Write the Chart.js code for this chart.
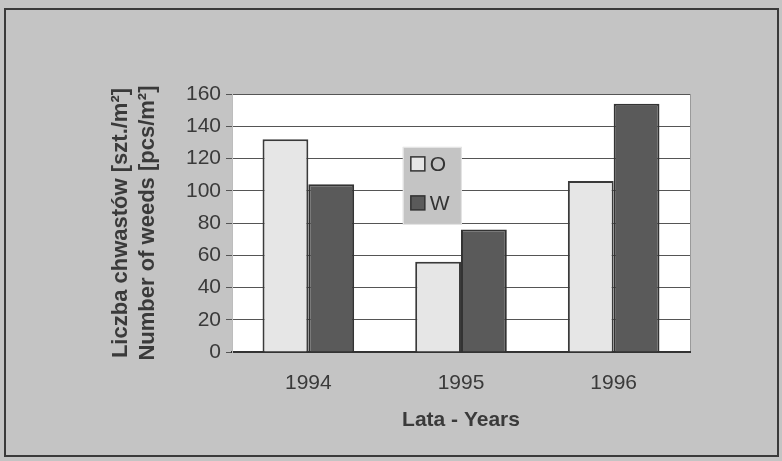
<!DOCTYPE html>
<html>
<head>
<meta charset="utf-8">
<script src="https://cdn.jsdelivr.net/npm/chart.js@4/dist/chart.umd.min.js"></script>
<style>
  body { margin: 0; background: #c4c4c4; }
  #wrap { width: 782px; height: 461px; }
</style>
</head>
<body>
<div id="wrap"><canvas id="weedsChart" width="782" height="461"></canvas></div>
<script>
// data
var years = ["1994", "1995", "1996"];
var seriesO = [132, 56, 106];
var seriesW = [104, 76, 154];
var yTicks = [0, 20, 40, 60, 80, 100, 120, 140, 160];

// grey page, scan frame and white plot area
var backdrop = {
  id: "backdrop",
  beforeDraw: function (chart) {
    var c = chart.ctx, a = chart.chartArea;
    c.save();
    c.fillStyle = "#c4c4c4";
    c.fillRect(0, 0, chart.width, chart.height);
    c.strokeStyle = "#3a3a3a";
    c.lineWidth = 2;
    c.strokeRect(5, 9, 773, 447);
    c.fillStyle = "#ffffff";
    c.fillRect(a.left, a.top, a.right - a.left, a.bottom - a.top);
    c.strokeStyle = "#9a9a9a";
    c.lineWidth = 1;
    c.beginPath();
    c.moveTo(a.right + 0.5, a.top);
    c.lineTo(a.right + 0.5, a.bottom);
    c.stroke();
    c.restore();
  }
};

// legend box sitting inside the plot, like the original
var innerLegend = {
  id: "innerLegend",
  afterDraw: function (chart) {
    var c = chart.ctx, a = chart.chartArea;
    var x = a.left + (a.right - a.left) * 0.373;
    var y = a.top + (a.bottom - a.top) * 0.205;
    c.save();
    c.fillStyle = "#c4c4c4";
    c.fillRect(x, y, 59, 78);
    c.strokeStyle = "#e8e8e8";
    c.lineWidth = 1;
    c.strokeRect(x + 0.5, y + 0.5, 58, 77);
    c.font = "21px 'Liberation Sans', Arial, sans-serif";
    c.textBaseline = "middle";
    chart.data.datasets.forEach(function (ds, i) {
      var sy = y + 10 + i * 39;
      c.fillStyle = ds.backgroundColor;
      c.fillRect(x + 8, sy, 14, 14);
      c.strokeStyle = "#333333";
      c.lineWidth = 1.5;
      c.strokeRect(x + 8, sy, 14, 14);
      c.fillStyle = "#333333";
      c.fillText(ds.label, x + 27, sy + 8);
    });
    c.restore();
  }
};

window.onload = function () {
  var ctx = document.getElementById("weedsChart").getContext("2d");
  var weedsChart = new Chart(ctx, {
    type: "bar",
    data: {
      labels: years,
      datasets: [{
        label: "O",
        data: seriesO,
        backgroundColor: "#e6e6e6",
        borderColor: "#3a3a3a",
        borderWidth: 2
      }, {
        label: "W",
        data: seriesW,
        backgroundColor: "#5a5a5a",
        borderColor: "#333333",
        borderWidth: 2
      }]
    },
    options: {
      responsive: false,
      animation: false,
      layout: { padding: { left: 0, right: 92, top: 94, bottom: 0 } },
      plugins: { legend: { display: false }, tooltip: { enabled: false } },
      datasets: { bar: { categoryPercentage: 0.6, barPercentage: 1.0 } },
      scales: {
        x: {
          afterFit: function (s) { s.height = 109; },
          grid: { display: false },
          border: { display: true, color: "#333333", width: 2 },
          ticks: {
            color: "#3a3a3a",
            padding: 11,
            font: { family: "'Liberation Sans', Arial, sans-serif", size: 21 }
          },
          title: {
            display: true,
            text: "Lata - Years",
            color: "#3a3a3a",
            padding: { top: 0, bottom: 28 },
            font: { family: "'Liberation Sans', Arial, sans-serif", size: 21, weight: "bold" }
          }
        },
        y: {
          min: 0,
          max: 160,
          afterFit: function (s) { s.width = 232; },
          afterBuildTicks: function (s) {
            s.ticks = yTicks.map(function (v) { return { value: v }; });
          },
          grid: { color: "#555555", lineWidth: 1, tickLength: 6 },
          border: { display: true, color: "#bdbdbd", width: 1 },
          ticks: {
            color: "#3a3a3a",
            padding: 5,
            font: { family: "'Liberation Sans', Arial, sans-serif", size: 21 }
          },
          title: {
            display: true,
            text: ["Liczba chwastów [szt./m²]", "Number of weeds [pcs/m²]"],
            color: "#3a3a3a",
            padding: { top: 108, bottom: 0 },
            font: { family: "'Liberation Sans', Arial, sans-serif", size: 22, weight: "bold", lineHeight: 1.2 }
          }
        }
      }
    },
    plugins: [backdrop, innerLegend]
  });
};
</script>
</body>
</html>
